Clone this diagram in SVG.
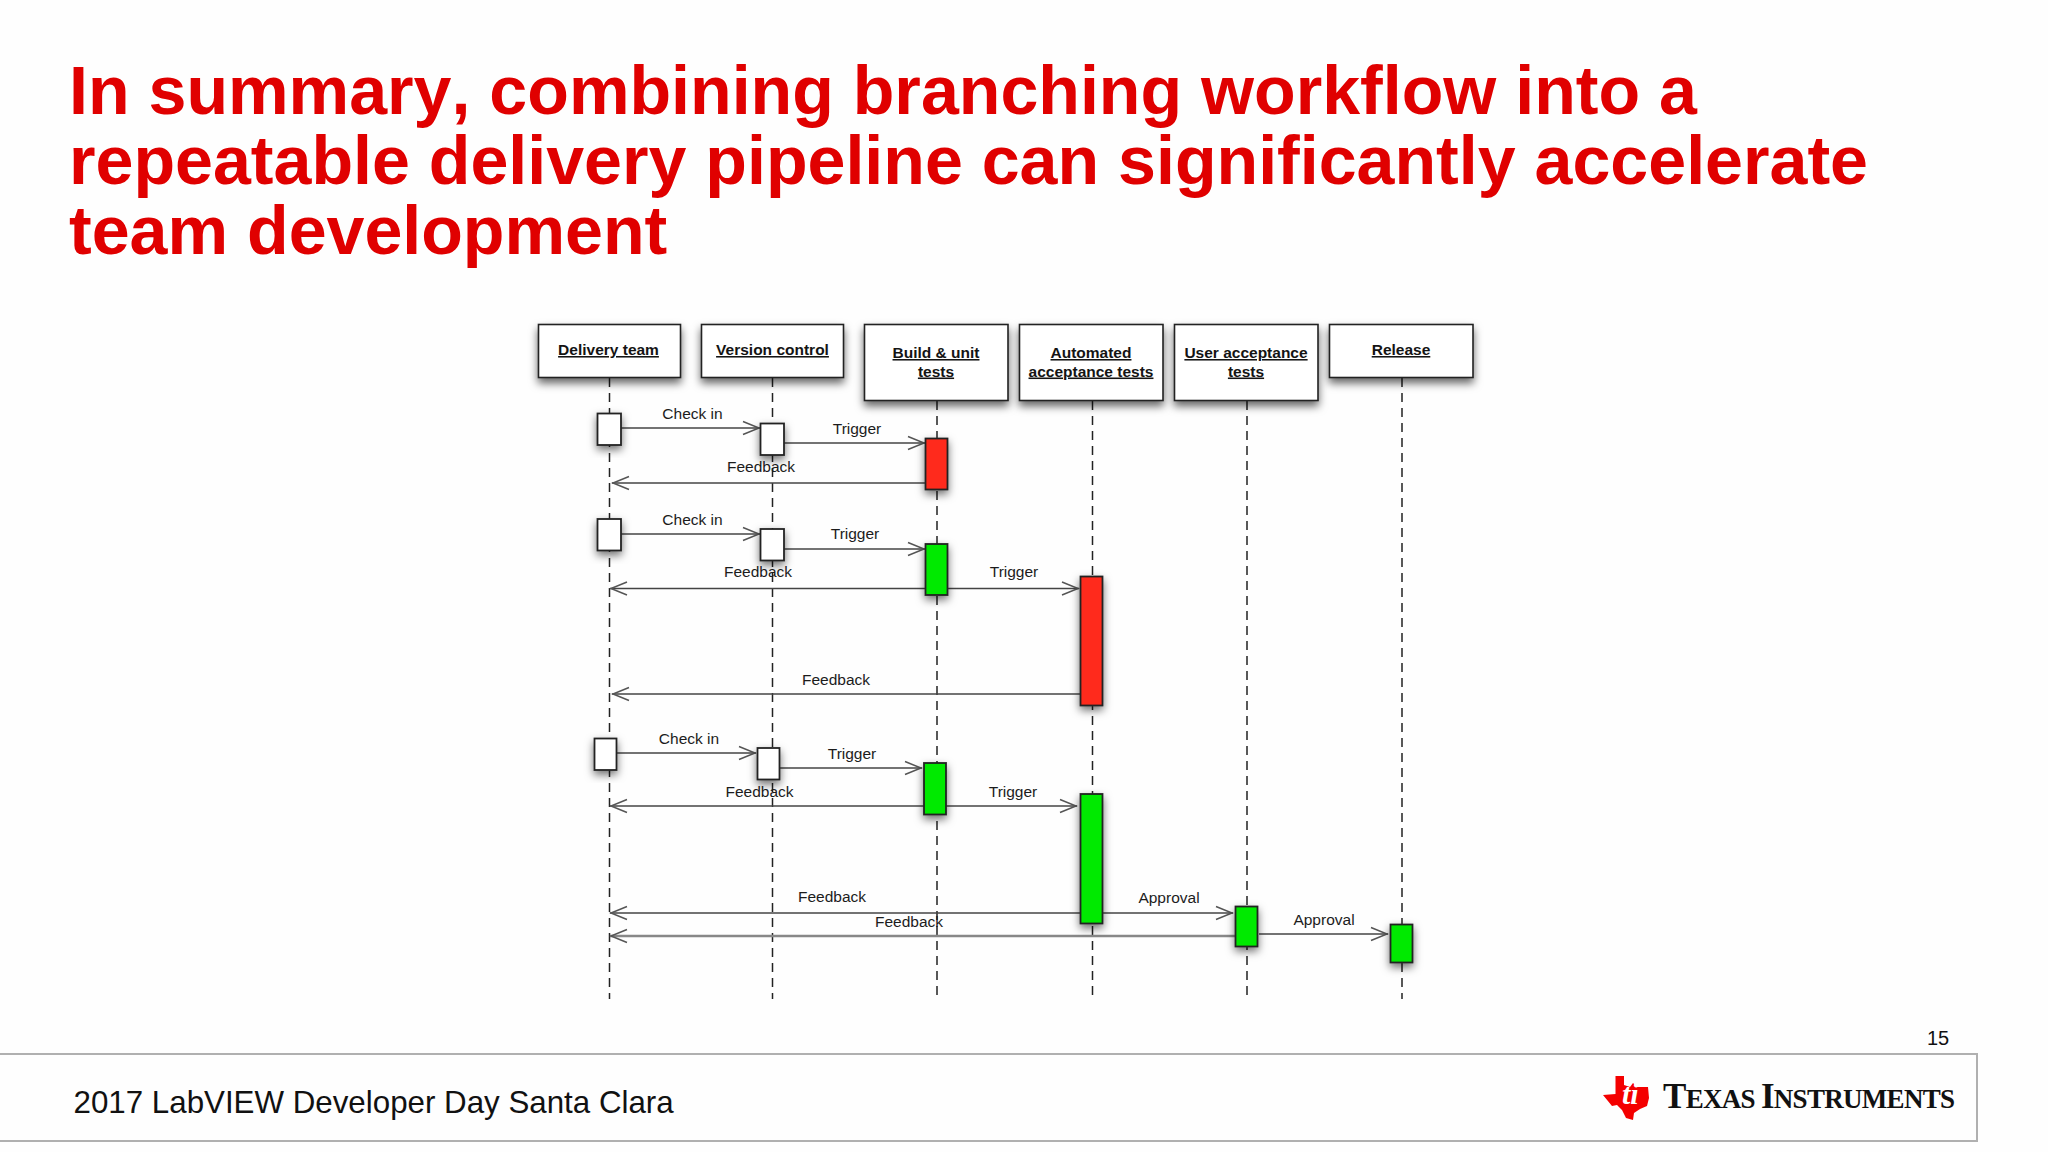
<svg xmlns="http://www.w3.org/2000/svg" width="2048" height="1152" viewBox="0 0 2048 1152">
<style>
text{font-family:"Liberation Sans",Arial,sans-serif}
.title{font-size:68.15px;font-weight:700;fill:#e00000;font-kerning:none}
.head{font-size:15.5px;font-weight:700;fill:#141414;text-anchor:middle;text-decoration:underline}
.lab{font-size:15.5px;fill:#1c1c1c;text-anchor:middle}
.box{fill:#fff;stroke:#222;stroke-width:1.6;filter:url(#sh)}
.act{stroke:#222;stroke-width:1.8;filter:url(#sh2)}
.w{fill:#fff}.r{fill:#ff2a1e}.g{fill:#00ea00}
.life{stroke:#222;stroke-width:1.5;stroke-dasharray:9 6;fill:none}
.msg{stroke:#444;stroke-width:1.6;fill:none;marker-end:url(#ah)}
.msgl{stroke:#888;stroke-width:2.4;fill:none;marker-end:url(#ah)}
.foot{fill:none;stroke:#b0b0b0;stroke-width:2}
</style>
<defs>
<filter id="sh" x="-20%" y="-30%" width="140%" height="170%"><feDropShadow dx="0" dy="5" stdDeviation="4" flood-color="#000" flood-opacity=".6"/></filter>
<filter id="sh2" x="-80%" y="-30%" width="260%" height="170%"><feDropShadow dx="0" dy="4" stdDeviation="4" flood-color="#000" flood-opacity=".55"/></filter>
<marker id="ah" markerUnits="userSpaceOnUse" markerWidth="20" markerHeight="16" refX="17" refY="7" orient="auto" overflow="visible"><path d="M0 0.500L16 7L0 13.500" fill="none" stroke="#555" stroke-width="1.5"/></marker>
</defs>
<rect width="2048" height="1152" fill="#fefefe"/>
<g id="title">
<text class="title" x="69" y="114">In summary, combining branching workflow into a</text>
<text class="title" x="69" y="184">repeatable delivery pipeline can significantly accelerate</text>
<text class="title" x="69" y="254">team development</text>
</g>
<g id="connectors">
<path class="life" d="M609.500 378V999"/>
<path class="life" d="M772.500 378V999"/>
<path class="life" d="M937 401V998"/>
<path class="life" d="M1092.500 401V998"/>
<path class="life" d="M1247 401V998"/>
<path class="life" d="M1402 378V999"/>
<path class="msg" d="M621 428H760"/>
<path class="msg" d="M784 443H925"/>
<path class="msg" d="M925 483H612"/>
<path class="msg" d="M621 534H760"/>
<path class="msg" d="M784 549H925"/>
<path class="msg" d="M925 588.500H610"/>
<path class="msg" d="M948 588.500H1079"/>
<path class="msg" d="M1080 694H612"/>
<path class="msg" d="M616 753H756"/>
<path class="msg" d="M779 768H922"/>
<path class="msg" d="M924 806H610"/>
<path class="msg" d="M946 806H1077"/>
<path class="msg" d="M1080 913H610"/>
<path class="msgl" d="M1235 936H610"/>
<path class="msg" d="M1102 913H1233"/>
<path class="msg" d="M1259 934H1388"/>
</g>
<g id="labels">
<text class="lab" x="692.500" y="419">Check in</text>
<text class="lab" x="857" y="434">Trigger</text>
<text class="lab" x="761" y="472">Feedback</text>
<text class="lab" x="692.500" y="525">Check in</text>
<text class="lab" x="855" y="539">Trigger</text>
<text class="lab" x="758" y="577">Feedback</text>
<text class="lab" x="1014" y="577">Trigger</text>
<text class="lab" x="836" y="685">Feedback</text>
<text class="lab" x="689" y="744">Check in</text>
<text class="lab" x="852" y="759">Trigger</text>
<text class="lab" x="759.500" y="797">Feedback</text>
<text class="lab" x="1013" y="797">Trigger</text>
<text class="lab" x="832" y="902">Feedback</text>
<text class="lab" x="909" y="927">Feedback</text>
<text class="lab" x="1169" y="903">Approval</text>
<text class="lab" x="1324" y="925">Approval</text>
</g>
<g id="delivery-team"><rect class="box" x="538.500" y="324.500" width="142" height="53"/><text class="head" x="608.500" y="355">Delivery team</text></g>
<g id="version-control"><rect class="box" x="701.500" y="324.500" width="142" height="53"/><text class="head" x="772.500" y="355">Version control</text></g>
<g id="build"><rect class="box" x="864.500" y="324.500" width="143.500" height="76"/><text class="head" x="936" y="358">Build &amp; unit</text><text class="head" x="936" y="376.500">tests</text></g>
<g id="automated"><rect class="box" x="1019.500" y="324.500" width="143.500" height="76"/><text class="head" x="1091" y="358">Automated</text><text class="head" x="1091" y="376.500">acceptance tests</text></g>
<g id="user-acceptance"><rect class="box" x="1174.500" y="324.500" width="143.500" height="76"/><text class="head" x="1246" y="358">User acceptance</text><text class="head" x="1246" y="376.500">tests</text></g>
<g id="release"><rect class="box" x="1329.500" y="324.500" width="143.500" height="53"/><text class="head" x="1401" y="355">Release</text></g>
<g id="act-1a"><rect class="act w" x="597.500" y="413.500" width="23.500" height="31.500"/></g>
<g id="act-1b"><rect class="act w" x="760.500" y="423.500" width="23.500" height="31.500"/></g>
<g id="act-1c"><rect class="act r" x="925.500" y="438.500" width="22" height="51"/></g>
<g id="act-2a"><rect class="act w" x="597.500" y="519" width="23.500" height="31.500"/></g>
<g id="act-2b"><rect class="act w" x="760.500" y="529" width="23.500" height="31.500"/></g>
<g id="act-2c"><rect class="act g" x="925.500" y="544" width="22" height="51"/></g>
<g id="act-2d"><rect class="act r" x="1080.500" y="576.500" width="22" height="129"/></g>
<g id="act-3a"><rect class="act w" x="594.500" y="738.500" width="22" height="31.500"/></g>
<g id="act-3b"><rect class="act w" x="757.500" y="748" width="22" height="31.500"/></g>
<g id="act-3c"><rect class="act g" x="924" y="763" width="22" height="51.500"/></g>
<g id="act-3d"><rect class="act g" x="1080.500" y="794" width="22" height="129.500"/></g>
<g id="act-3e"><rect class="act g" x="1235.500" y="906.500" width="22" height="40"/></g>
<g id="act-3f"><rect class="act g" x="1390.500" y="924.500" width="22" height="38"/></g>
<g id="footer">
<rect class="foot" x="-2" y="1054" width="1979" height="87"/>
<text x="73.500" y="1113" font-size="31.300" fill="#111">2017 LabVIEW Developer Day Santa Clara</text>
<text x="1938" y="1045" font-size="20" fill="#111" text-anchor="middle">15</text>
</g>
<g id="logo">
<path d="M1615.500 1076H1624V1085L1630 1087L1633 1083L1637 1087L1648 1087L1649 1098L1647 1106L1640 1109L1634 1113L1633 1120L1626 1118L1622 1110L1617 1105L1612 1106L1603 1095L1615.500 1094Z" fill="#f40000"/>
<text x="1622" y="1104" font-size="30" font-weight="700" font-style="italic" fill="#fff" style="font-family:'Liberation Serif',serif">ti</text>
<text x="1663" y="1108" fill="#111" font-weight="700" style="font-family:'Liberation Serif',serif" textLength="292" lengthAdjust="spacing"><tspan font-size="35">T</tspan><tspan font-size="27">EXAS </tspan><tspan font-size="35">I</tspan><tspan font-size="27">NSTRUMENTS</tspan></text>
</g>
</svg>
